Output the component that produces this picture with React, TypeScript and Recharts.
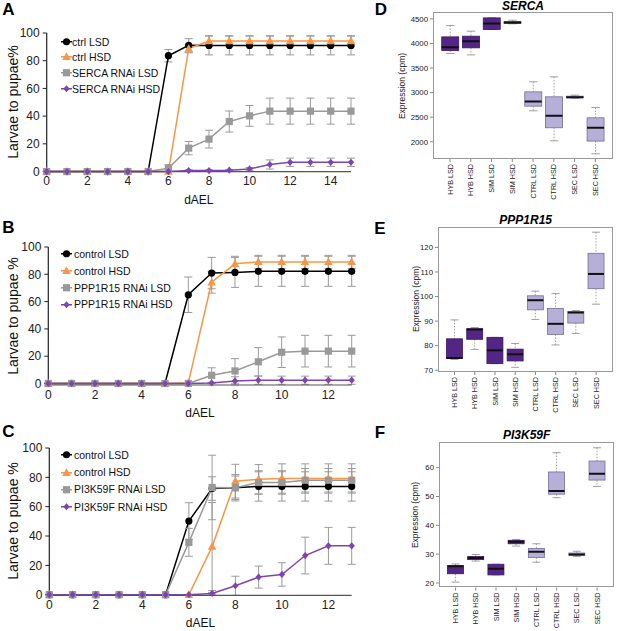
import React from 'react';
import { LineChart, Line, XAxis, YAxis, ErrorBar, BarChart, Bar } from 'recharts';

const FONT = 'Arial, "Liberation Sans", Helvetica, sans-serif';

// ---- pupariation time courses (A-C) ----
const daysA = [0, 1, 2, 3, 4, 5, 6, 7, 8, 9, 10, 11, 12, 13, 14, 15];
const ctrlLsdA = [0, 0, 0, 0, 0, 0, 83.6, 91.1, 91, 91, 91, 91, 91, 91, 91, 91];
const ctrlLsdErrA = [0, 0, 0, 0, 0, 0, 4.5, 4.8, 6.8, 6.8, 6.8, 6.8, 6.8, 6.8, 6.8, 6.8];
const ctrlHsdA = [0, 0, 0, 0, 0, 0, 0, 88.7, 94.2, 94.2, 94.2, 94.2, 94.2, 94.2, 94.2, 94.2];
const ctrlHsdErrA = [0, 0, 0, 0, 0, 0, 0, 3, 3.8, 3.8, 3.8, 3.8, 3.8, 3.8, 3.8, 3.8];
const sercaLsdA = [0, 0, 0, 0, 0, 0, 2.4, 16.9, 23.4, 36.1, 40.2, 43.6, 43.6, 43.6, 43.6, 43.6];
const sercaLsdErrA = [0, 0, 0, 0, 0, 0, 2.5, 4.8, 6.4, 7.6, 7.5, 9.4, 9.4, 9.4, 9.4, 9.4];
const sercaHsdA = [0, 0, 0, 0, 0, 0, 0, 0.7, 0.7, 1, 1.9, 5.1, 6.7, 6.7, 6.7, 6.7];
const sercaHsdErrA = [0, 0, 0, 0, 0, 0, 0, 0.5, 0.5, 0.5, 1, 3.3, 3, 3, 3, 3];

const daysB = [0, 1, 2, 3, 4, 5, 6, 7, 8, 9, 10, 11, 12, 13];
const ctrlLsdB = [0, 0, 0, 0, 0, 0, 65, 80.9, 81.4, 82.2, 82.2, 82.2, 82.2, 82.2];
const ctrlLsdErrB = [0, 0, 0, 0, 0, 0, 13, 11.5, 11, 11, 11, 11, 11, 11];
const ctrlHsdB = [0, 0, 0, 0, 0, 0, 0.5, 74.2, 87.7, 89.1, 89.1, 89.1, 89.1, 89.1];
const ctrlHsdErrB = [0, 0, 0, 0, 0, 0, 0, 8, 5.5, 4.8, 4.8, 4.8, 4.8, 4.8];
const pppLsdB = [0, 0, 0, 0, 0, 0, 0, 6, 9.2, 15.9, 22.9, 23.7, 23.7, 23.7];
const pppLsdErrB = [0, 0, 0, 0, 0, 0, 0, 5.5, 9, 10.4, 11.2, 11.6, 11.6, 11.6];
const pppHsdB = [0, 0, 0, 0, 0, 0, 0, 0.4, 1.9, 2.4, 2.4, 2.4, 2.4, 2.4];
const pppHsdErrB = [0, 0, 0, 0, 0, 0, 0, 0.5, 3, 3, 3, 3, 3, 3];

const daysC = [0, 1, 2, 3, 4, 5, 6, 7, 8, 9, 10, 11, 12, 13];
const ctrlLsdC = [0, 0, 0, 0, 0, 0, 50.2, 72.4, 72.9, 73.8, 73.8, 73.8, 73.8, 73.8];
const ctrlLsdErrC = [0, 0, 0, 0, 0, 0, 12.5, 8, 9, 10, 10, 10, 10, 10];
const ctrlHsdC = [0, 0, 0, 0, 0, 0, 0, 32.8, 77.4, 78.7, 79.2, 79.2, 79.2, 79.2];
const ctrlHsdErrC = [0, 0, 0, 0, 0, 0, 0, 30, 11.5, 10, 10, 10, 10, 10];
const pi3LsdC = [0, 0, 0, 0, 0, 0, 35.7, 73.1, 72.9, 76.5, 76.5, 78, 78, 78];
const pi3LsdErrC = [0, 0, 0, 0, 0, 0, 9.5, 22, 8, 8, 8, 8, 8, 8];
const pi3HsdC = [0, 0, 0, 0, 0, 0, 0, 0.9, 6.1, 12, 13.8, 26.7, 33.3, 33.3];
const pi3HsdErrC = [0, 0, 0, 0, 0, 0, 0, 0.5, 6.5, 7.5, 8, 12.5, 12.6, 12.6];

const pctTicks = [0, 20, 40, 60, 80, 100];

// ---- expression box plots (D-F) ----
const groups = ['HYB LSD', 'HYB HSD', 'SIM LSD', 'SIM HSD', 'CTRL LSD', 'CTRL HSD', 'SEC LSD', 'SEC HSD'];

const sercaLo = [3795, 3768, 4283, 4400, 2630, 2020, 2888, 1756];
const sercaQ1 = [3856, 3911, 4283, 4412, 2725, 2285, 2894, 2014];
const sercaMed = [3924, 4046, 4405, 4425, 2820, 2528, 2908, 2285];
const sercaQ3 = [4134, 4148, 4520, 4440, 3016, 2915, 2928, 2488];
const sercaHi = [4364, 4250, 4525, 4473, 3220, 3321, 2949, 2698];
const sercaTicks = [2000, 2500, 3000, 3500, 4000, 4500];

const pppLo = [74.4, 78.5, 72.7, 71.2, 90.7, 80.3, 85.0, 96.9];
const pppQ1 = [74.8, 82.6, 72.7, 73.8, 94.6, 84.6, 89.2, 103.2];
const pppMed = [75.0, 86.6, 78.1, 76.5, 98.5, 88.9, 93.5, 109.2];
const pppQ3 = [82.8, 86.9, 83.4, 78.6, 100.3, 95.1, 93.9, 117.6];
const pppHi = [90.5, 87.4, 83.4, 80.9, 102.2, 101.2, 94.3, 126.2];
const pppTicks = [70, 80, 90, 100, 110, 120];

const pi3Lo = [20.3, 27.6, 22.8, 32.8, 27.2, 49.6, 29.2, 53.5];
const pi3Q1 = [23.2, 28.1, 22.8, 33.6, 28.8, 50.8, 29.6, 55.7];
const pi3Med = [25.8, 28.7, 24.9, 34.3, 30.8, 51.9, 29.9, 57.9];
const pi3Q3 = [26.0, 29.2, 26.5, 34.8, 32.0, 58.5, 30.4, 62.3];
const pi3Hi = [26.6, 29.9, 26.5, 35.1, 33.6, 65.2, 31.0, 66.9];
const pi3Ticks = [20, 30, 40, 50, 60];

const BLACK = '#000000';
const ORANGE = '#f79646';
const GRAY = '#999999';
const PURPLE = '#7e45b0';
const DARK = '#532685';
const LIGHT = '#b6b0d8';

type Shape = 'circle' | 'triangle' | 'square' | 'diamond';
interface Series { key: string; name: string; color: string; shape: Shape; values: number[]; errors: number[] }

function marker(shape: Shape, color: string, cx: number, cy: number, key?: string) {
  switch (shape) {
    case 'circle':
      return <circle key={key} cx={cx} cy={cy} r={3.6} fill={color} />;
    case 'triangle':
      return <path key={key} d={`M${cx},${cy - 4.5}L${cx + 4.3},${cy + 3.2}L${cx - 4.3},${cy + 3.2}Z`} fill={color} />;
    case 'square':
      return <rect key={key} x={cx - 3.6} y={cy - 3.6} width={7.2} height={7.2} fill={color} />;
    default:
      return <path key={key} d={`M${cx},${cy - 3.6}L${cx + 3.2},${cy}L${cx},${cy + 3.6}L${cx - 3.2},${cy}Z`} fill={color} />;
  }
}

const makeDot = (s: Series) => (p: any) => {
  const k = `${s.key}-${p.index}`;
  if (p.cx == null || p.cy == null) return <g key={k} />;
  return marker(s.shape, s.color, p.cx, p.cy, k);
};

function buildRows(days: number[], series: Series[]) {
  return days.map((d, i) => {
    const row: any = { day: d };
    series.forEach((s) => {
      row[s.key] = s.values[i];
      row[s.key + 'Err'] = s.errors[i];
    });
    return row;
  });
}

const abs = (extra: React.CSSProperties): React.CSSProperties => ({
  position: 'absolute',
  fontFamily: FONT,
  whiteSpace: 'nowrap',
  lineHeight: 1,
  ...extra,
});

function Letter({ text, x, y }: { text: string; x: number; y: number }) {
  return (
    <div style={abs({ left: x, top: y, transform: 'translate(-50%,-50%)', fontSize: 17, fontWeight: 'bold', color: '#000' })}>
      {text}
    </div>
  );
}

interface Box { left: number; right: number; top: number; bottom: number }

function LinePanel({ plot, days, xMax, xTicks, series, yLabel, legendYs, legendTextX }: {
  plot: Box; days: number[]; xMax: number; xTicks: number[]; series: Series[]; yLabel: string; legendYs: number[]; legendTextX: number;
}) {
  const YW = 30;
  const top = plot.top - 30;
  const width = plot.right + 10;
  const height = plot.bottom - top + 35;
  const data = buildRows(days, series);
  return (
    <>
      <div style={{ position: 'absolute', left: 0, top, width, height }}>
        <LineChart width={width} height={height} data={data} margin={{ top: 30, right: 10, left: plot.left - YW, bottom: 5 }}>
          <XAxis
            dataKey="day"
            type="number"
            domain={[0, xMax]}
            ticks={xTicks}
            height={30}
            tickLine={false}
            tickSize={4}
            tickMargin={1}
            axisLine={{ stroke: '#555', strokeWidth: 1.2 }}
            tick={{ fontSize: 12, fill: '#222', fontFamily: FONT }}
          />
          <YAxis
            type="number"
            domain={[0, 100]}
            ticks={pctTicks}
            width={YW}
            tickSize={4}
            tickMargin={3}
            axisLine={{ stroke: '#222', strokeWidth: 1.2 }}
            tickLine={{ stroke: '#222' }}
            tick={{ fontSize: 12, fill: '#222', fontFamily: FONT }}
          />
          {series.map((s) => (
            <Line
              key={s.key}
              type="linear"
              dataKey={s.key}
              name={s.name}
              stroke={s.color}
              strokeWidth={1.5}
              dot={makeDot(s)}
              activeDot={false}
              isAnimationActive={false}
            >
              <ErrorBar dataKey={s.key + 'Err'} direction="y" width={4} stroke="#9a9a9a" strokeWidth={1} />
            </Line>
          ))}
        </LineChart>
      </div>
      <div
        style={abs({
          left: 13,
          top: (plot.top + plot.bottom) / 2,
          transform: 'translate(-50%,-50%) rotate(-90deg)',
          fontSize: 14,
          color: '#111',
        })}
      >
        {yLabel}
      </div>
      <div style={abs({ left: (plot.left + plot.right) / 2, top: plot.bottom + 28, transform: 'translate(-50%,-50%)', fontSize: 12, color: '#111' })}>
        dAEL
      </div>
      {series.map((s, i) => (
        <div key={s.key} style={abs({ left: 60, top: legendYs[i], transform: 'translateY(-50%)', display: 'flex', alignItems: 'center', fontSize: 10.5, color: '#111' })}>
          <svg width={legendTextX - 60} height={10} style={{ display: 'block' }}>
            <line x1={1} x2={12} y1={5} y2={5} stroke={s.color} strokeWidth={1.5} />
            {marker(s.shape, s.color, 6.5, 5)}
          </svg>
          <span>{s.name}</span>
        </div>
      ))}
    </>
  );
}

function BoxShape(props: any) {
  const { x, y, width, height, payload } = props;
  if (!payload || width == null) return <g />;
  const top = Math.min(y, y + height);
  const h = Math.abs(height);
  const span = payload.hi - payload.lo;
  const py = (v: number) => top + ((payload.hi - v) / span) * h;
  const cx = x + width / 2;
  const cap = width * 0.25;
  const fill = payload.dark ? DARK : LIGHT;
  const edge = payload.dark ? '#3a1666' : '#736d9c';
  return (
    <g>
      <line x1={cx} x2={cx} y1={py(payload.hi)} y2={py(payload.q3)} stroke="#888" strokeWidth={0.8} strokeDasharray="1.5 1.5" />
      <line x1={cx} x2={cx} y1={py(payload.q1)} y2={py(payload.lo)} stroke="#888" strokeWidth={0.8} strokeDasharray="1.5 1.5" />
      <line x1={cx - cap} x2={cx + cap} y1={py(payload.hi)} y2={py(payload.hi)} stroke="#888" strokeWidth={0.8} />
      <line x1={cx - cap} x2={cx + cap} y1={py(payload.lo)} y2={py(payload.lo)} stroke="#888" strokeWidth={0.8} />
      <rect x={x} y={py(payload.q3)} width={width} height={Math.max(py(payload.q1) - py(payload.q3), 0.5)} fill={fill} stroke={edge} strokeWidth={0.8} />
      <line x1={x} x2={x + width} y1={py(payload.med)} y2={py(payload.med)} stroke="#111" strokeWidth={2} />
    </g>
  );
}

function CatTick(props: any) {
  const { x, y, payload } = props;
  return (
    <text
      x={x}
      y={y + 1}
      dy={2.6}
      transform={`rotate(-90, ${x}, ${y + 1})`}
      textAnchor="end"
      fontSize={7.2}
      fontFamily={FONT}
      fill="#222"
    >
      {payload.value}
    </text>
  );
}

function BoxPanel({ plot, title, lo, q1, med, q3, hi, domain, ticks, labelX }: {
  plot: Box; title: string; lo: number[]; q1: number[]; med: number[]; q3: number[]; hi: number[];
  domain: [number, number]; ticks: number[]; labelX: number;
}) {
  const YW = 45;
  const left = plot.left - YW;
  const top = plot.top - 15;
  const width = plot.right - left + 2;
  const height = plot.bottom - plot.top + 15 + 42 + 2;
  const pad = (plot.right - plot.left) * 0.037;
  const data = groups.map((g, i) => ({
    cat: g,
    lo: lo[i],
    q1: q1[i],
    med: med[i],
    q3: q3[i],
    hi: hi[i],
    span: [lo[i], hi[i]],
    dark: i < 4,
  }));
  return (
    <>
      <div style={{ position: 'absolute', left, top, width, height }}>
        <BarChart width={width} height={height} data={data} margin={{ top: 15, right: 2, left: 0, bottom: 2 }} barCategoryGap="10%">
          <XAxis
            dataKey="cat"
            type="category"
            height={42}
            interval={0}
            padding={{ left: pad, right: pad }}
            axisLine={false}
            tickLine={{ stroke: '#888' }}
            tickSize={3}
            tickMargin={1}
            tick={CatTick}
          />
          <YAxis
            type="number"
            domain={domain}
            ticks={ticks}
            allowDataOverflow
            width={YW}
            axisLine={false}
            tickLine={{ stroke: '#888' }}
            tickSize={3}
            tickMargin={2}
            tick={{ fontSize: 7.8, fill: '#222', fontFamily: FONT }}
          />
          <Bar dataKey="span" shape={BoxShape} isAnimationActive={false} />
        </BarChart>
      </div>
      <div
        style={{
          position: 'absolute',
          left: plot.left,
          top: plot.top,
          width: plot.right - plot.left,
          height: plot.bottom - plot.top,
          border: '1px solid #999',
          boxSizing: 'border-box',
          pointerEvents: 'none',
        }}
      />
      <div style={abs({ left: (plot.left + plot.right) / 2, top: plot.top - 6.5, transform: 'translate(-50%,-50%)', fontSize: 12, fontWeight: 'bold', fontStyle: 'italic', color: '#000' })}>
        {title}
      </div>
      <div
        style={abs({
          left: labelX,
          top: (plot.top + plot.bottom) / 2,
          transform: 'translate(-50%,-50%) rotate(-90deg)',
          fontSize: 8.5,
          color: '#222',
        })}
      >
        Expression (cpm)
      </div>
    </>
  );
}

const seriesA: Series[] = [
  { key: 'ctrlLsd', name: 'ctrl LSD', color: BLACK, shape: 'circle', values: ctrlLsdA, errors: ctrlLsdErrA },
  { key: 'ctrlHsd', name: 'ctrl HSD', color: ORANGE, shape: 'triangle', values: ctrlHsdA, errors: ctrlHsdErrA },
  { key: 'rnaiLsd', name: 'SERCA RNAi LSD', color: GRAY, shape: 'square', values: sercaLsdA, errors: sercaLsdErrA },
  { key: 'rnaiHsd', name: 'SERCA RNAi HSD', color: PURPLE, shape: 'diamond', values: sercaHsdA, errors: sercaHsdErrA },
];
const seriesB: Series[] = [
  { key: 'ctrlLsd', name: 'control LSD', color: BLACK, shape: 'circle', values: ctrlLsdB, errors: ctrlLsdErrB },
  { key: 'ctrlHsd', name: 'control HSD', color: ORANGE, shape: 'triangle', values: ctrlHsdB, errors: ctrlHsdErrB },
  { key: 'rnaiLsd', name: 'PPP1R15 RNAi LSD', color: GRAY, shape: 'square', values: pppLsdB, errors: pppLsdErrB },
  { key: 'rnaiHsd', name: 'PPP1R15 RNAi HSD', color: PURPLE, shape: 'diamond', values: pppHsdB, errors: pppHsdErrB },
];
const seriesC: Series[] = [
  { key: 'ctrlLsd', name: 'control LSD', color: BLACK, shape: 'circle', values: ctrlLsdC, errors: ctrlLsdErrC },
  { key: 'ctrlHsd', name: 'control HSD', color: ORANGE, shape: 'triangle', values: ctrlHsdC, errors: ctrlHsdErrC },
  { key: 'rnaiLsd', name: 'PI3K59F RNAi LSD', color: GRAY, shape: 'square', values: pi3LsdC, errors: pi3LsdErrC },
  { key: 'rnaiHsd', name: 'PI3K59F RNAi HSD', color: PURPLE, shape: 'diamond', values: pi3HsdC, errors: pi3HsdErrC },
];

export default function App() {
  return (
    <div style={{ position: 'absolute', left: 0, top: 0, width: 617, height: 631, background: '#fff', overflow: 'hidden', fontFamily: FONT }}>
      <LinePanel
        plot={{ left: 46.7, right: 351, top: 33, bottom: 171.7 }}
        days={daysA}
        xMax={15}
        xTicks={[0, 2, 4, 6, 8, 10, 12, 14]}
        series={seriesA}
        yLabel="Larvae to pupae%"
        legendYs={[42, 57, 73, 89]}
        legendTextX={72}
      />
      <LinePanel
        plot={{ left: 48.3, right: 351.7, top: 247.3, bottom: 385.3 }}
        days={daysB}
        xMax={13}
        xTicks={[0, 2, 4, 6, 8, 10, 12]}
        series={seriesB}
        yLabel="Larvae to pupae %"
        legendYs={[253.7, 270.7, 287.7, 304.3]}
        legendTextX={74}
      />
      <LinePanel
        plot={{ left: 49.3, right: 351.7, top: 447.7, bottom: 595 }}
        days={daysC}
        xMax={13}
        xTicks={[0, 2, 4, 6, 8, 10, 12]}
        series={seriesC}
        yLabel="Larvae to pupae %"
        legendYs={[455, 472.3, 489.3, 506.7]}
        legendTextX={74}
      />
      <BoxPanel
        plot={{ left: 433.3, right: 612.7, top: 12.3, bottom: 159.3 }}
        title="SERCA"
        lo={sercaLo}
        q1={sercaQ1}
        med={sercaMed}
        q3={sercaQ3}
        hi={sercaHi}
        domain={[1650, 4640]}
        ticks={sercaTicks}
        labelX={402}
      />
      <BoxPanel
        plot={{ left: 438.3, right: 613, top: 226.7, bottom: 371.7 }}
        title="PPP1R15"
        lo={pppLo}
        q1={pppQ1}
        med={pppMed}
        q3={pppQ3}
        hi={pppHi}
        domain={[69.3, 128.3]}
        ticks={pppTicks}
        labelX={416}
      />
      <BoxPanel
        plot={{ left: 439.3, right: 614, top: 441.7, bottom: 587.3 }}
        title="PI3K59F"
        lo={pi3Lo}
        q1={pi3Q1}
        med={pi3Med}
        q3={pi3Q3}
        hi={pi3Hi}
        domain={[18.4, 68.9]}
        ticks={pi3Ticks}
        labelX={415}
      />
      <Letter text="A" x={8.5} y={9} />
      <Letter text="B" x={8.5} y={227} />
      <Letter text="C" x={8.5} y={431} />
      <Letter text="D" x={381} y={9} />
      <Letter text="E" x={380} y={227.5} />
      <Letter text="F" x={380} y={431.5} />
    </div>
  );
}
